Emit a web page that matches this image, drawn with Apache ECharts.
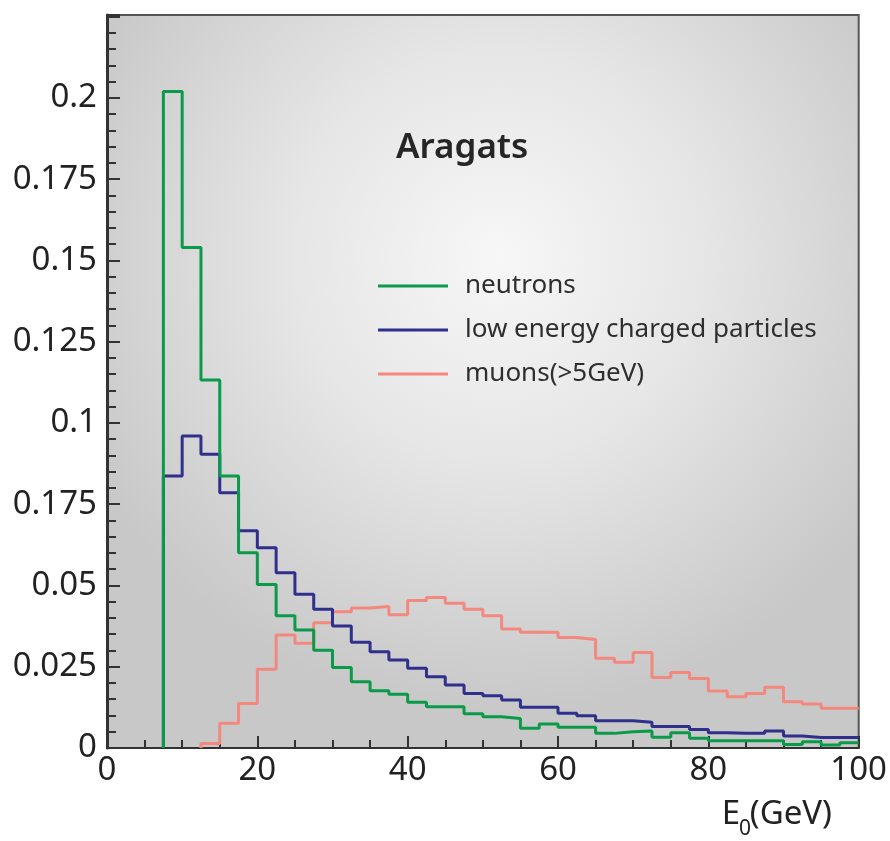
<!DOCTYPE html>
<html>
<head>
<meta charset="utf-8">
<script src="https://cdn.jsdelivr.net/npm/echarts@6/dist/echarts.min.js"></script>
<style>
html,body{margin:0;padding:0;background:#fff;}
#c{width:890px;height:841px;}
</style>
</head>
<body>
<div id="c"></div>
<script>
// Bin lower edges (GeV), bin width 2.5
const binLow = [0,2.5,5,7.5,10,12.5,15,17.5,20,22.5,25,27.5,30,32.5,35,37.5,40,42.5,45,47.5,
                50,52.5,55,57.5,60,62.5,65,67.5,70,72.5,75,77.5,80,82.5,85,87.5,90,92.5,95,97.5];
const binWidth = 2.5;

const seriesNames = ['neutrons', 'low energy charged particles', 'muons(>5GeV)'];

const neutrons = [null,null,null,0.202,0.154,0.1132,0.0837,0.0601,0.0503,0.0407,
                  0.0363,0.0301,0.0248,0.0204,0.0176,0.0165,0.0141,0.0127,0.0127,0.0105,
                  0.0096,0.0091,0.0061,0.0074,0.0064,0.0064,0.0045,0.0050,0.0052,0.0033,
                  0.0047,0.0030,0.0022,0.0022,0.0022,0.0022,0.0011,0.0019,0.0009,0.0016];

const charged = [null,null,null,0.0837,0.0960,0.0904,0.0785,0.0668,0.0616,0.0539,
                 0.0473,0.0427,0.0375,0.0325,0.0296,0.0271,0.0245,0.0219,0.0194,0.0168,
                 0.0161,0.0148,0.0125,0.0125,0.0107,0.0099,0.0084,0.0084,0.0079,0.0066,
                 0.0066,0.0057,0.0047,0.0045,0.0045,0.0052,0.0037,0.0032,0.0032,0.0032];

const muons = [null,null,null,null,null,0.0014,0.0076,0.0137,0.0242,0.0348,
               0.0322,0.0385,0.0419,0.0431,0.0435,0.0410,0.0454,0.0463,0.0445,0.0427,
               0.0407,0.0366,0.0356,0.0356,0.0340,0.0334,0.0276,0.0264,0.0294,0.0217,
               0.0232,0.0214,0.0175,0.0158,0.0168,0.0187,0.0142,0.0135,0.0122,0.0122];

const xTicks = [0,20,40,60,80,100];
const yTickLabels = ['0','0.025','0.05','0.175','0.1','0.125','0.15','0.175','0.2'];

function histPoints(vals) {
  const pts = [];
  let first = -1, last = -1;
  vals.forEach((v, i) => { if (v !== null) { if (first < 0) first = i; last = i; } });
  pts.push([binLow[first], 0]);
  for (let i = first; i <= last; i++) pts.push([binLow[i], vals[i]]);
  pts.push([binLow[last] + binWidth, vals[last]]);
  return pts;
}

const colors = ['#0a9a49', '#2f2f8c', '#f3887f'];
const FONT = 'Noto Sans';

const chart = echarts.init(document.getElementById('c'), null, {renderer: 'canvas'});
chart.setOption({
  animation: false,
  backgroundColor: '#ffffff',
  title: {
    text: 'Aragats',
    left: 391, top: 126,
    textStyle: {fontFamily: FONT, fontSize: 35, fontWeight: 600, color: '#262626'}
  },
  legend: {
    orient: 'vertical',
    left: 373, top: 268,
    itemWidth: 70, itemHeight: 3,
    itemGap: 18,
    icon: 'rect',
    data: seriesNames,
    textStyle: {fontFamily: FONT, fontSize: 26, color: '#2e2e2e', lineHeight: 26, padding: [0,0,0,12]}
  },
  grid: {
    left: 107, top: 15, right: 31, bottom: 93,
    show: true,
    borderColor: '#555', borderWidth: 2,
    backgroundColor: new echarts.graphic.RadialGradient(0.52, 0.33, 0.62, [
      {offset: 0, color: '#f7f7f7'},
      {offset: 0.45, color: '#e6e6e6'},
      {offset: 1, color: '#c8c8c8'}
    ])
  },
  xAxis: {
    type: 'value', min: 0, max: 100, interval: 20,
    axisLine: {show: true, onZero: false, lineStyle: {color: '#333', width: 2}},
    axisTick: {show: true, inside: true, length: 12, lineStyle: {color: '#333', width: 2}},
    minorTick: {show: true, splitNumber: 4, length: 8, lineStyle: {color: '#333', width: 2}},
    splitLine: {show: false},
    axisLabel: {
      margin: 6, fontFamily: FONT, fontSize: 33, color: '#222',
      formatter: v => xTicks.indexOf(v) >= 0 ? String(v) : ''
    }
  },
  yAxis: {
    type: 'value', min: 0, max: 0.2255, interval: 0.025,
    axisLine: {show: true, onZero: false, lineStyle: {color: '#333', width: 3}},
    axisTick: {show: true, inside: true, length: 13, lineStyle: {color: '#333', width: 2}},
    minorTick: {show: true, splitNumber: 5, length: 9, lineStyle: {color: '#333', width: 2}},
    splitLine: {show: false},
    axisLabel: {
      margin: 10, fontFamily: FONT, fontSize: 33, color: '#222',
      formatter: v => {
        const k = Math.round(v / 0.025);
        if (Math.abs(v - k * 0.025) > 1e-9) return '';
        return yTickLabels[k] !== undefined ? yTickLabels[k] : '';
      }
    }
  },
  graphic: [
    {type: 'text', x: 740, y: 815, style: {text: 'E', font: '33px "Noto Sans"', fill: '#222', textAlign: 'right', textVerticalAlign: 'middle'}},
    {type: 'text', x: 739, y: 829, style: {text: '0', font: '21px "Noto Sans"', fill: '#222', textAlign: 'left', textVerticalAlign: 'middle'}},
    {type: 'text', x: 832, y: 815, style: {text: '(GeV)', font: '33px "Noto Sans"', fill: '#222', textAlign: 'right', textVerticalAlign: 'middle'}}
  ],
  series: [
    {name: seriesNames[0], type: 'line', step: 'end', showSymbol: false, symbol: 'none',
     data: histPoints(neutrons), lineStyle: {color: colors[0], width: 3}, itemStyle: {color: colors[0]}, z: 4},
    {name: seriesNames[1], type: 'line', step: 'end', showSymbol: false, symbol: 'none',
     data: histPoints(charged), lineStyle: {color: colors[1], width: 3}, itemStyle: {color: colors[1]}, z: 3},
    {name: seriesNames[2], type: 'line', step: 'end', showSymbol: false, symbol: 'none',
     data: histPoints(muons), lineStyle: {color: colors[2], width: 3}, itemStyle: {color: colors[2]}, z: 2}
  ]
});
</script>
</body>
</html>
